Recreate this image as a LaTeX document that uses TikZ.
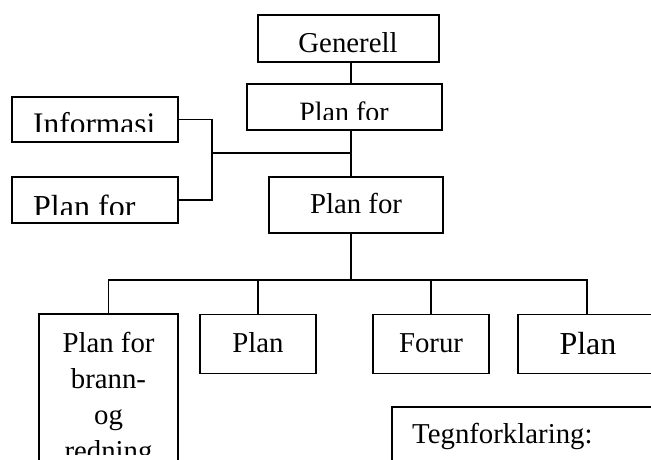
\documentclass[tikz,border=0pt]{standalone}
\usepackage{fontspec}
\setmainfont{Liberation Serif}
\begin{document}
\begin{tikzpicture}[x=1pt,y=-1pt]
\tikzset{
  box/.style={draw, line width=1.8pt, rectangle, inner sep=0pt},
  wire/.style={line width=1.8pt},
  lbl/.style={inner sep=0pt, anchor=base, font=\fontsize{28.8}{35}\selectfont},
  lblbig/.style={inner sep=0pt, anchor=base, font=\fontsize{32}{36}\selectfont},
}
\clip (0,0) rectangle (651,459);
\useasboundingbox (0,0) rectangle (651,459);

% boxes
\node[box, minimum width=181pt, minimum height=47pt] (gen)   at (348.5,38.5) {};
\node[box, minimum width=195pt, minimum height=46pt] (pf1)   at (344.5,107) {};
\node[box, minimum width=166pt, minimum height=45pt] (info)  at (95,119.5) {};
\node[box, minimum width=166pt, minimum height=46pt] (pfl)   at (95,200) {};
\node[box, minimum width=174pt, minimum height=56pt] (pfc)   at (356,205) {};
\node[box, minimum width=139pt, minimum height=186pt] (brann) at (108.5,407) {};
\node[box, minimum width=116pt, minimum height=59pt] (plan2) at (258,344) {};
\node[box, minimum width=116pt, minimum height=59pt] (forur) at (431,344) {};
\node[box, minimum width=138pt, minimum height=59pt] (planr) at (587,344) {};
\node[box, minimum width=328pt, minimum height=113pt] (tegn)  at (556,463.5) {};

% texts
\node[lbl] (tgen) at (348,52) {Generell};
\begin{scope}
  \clip (248,85) rectangle (441,119);
  \node[lbl, font=\fontsize{28}{34}\selectfont] (tpf1) at (344,121) {Plan for};
\end{scope}
\begin{scope}
  \clip (13,98) rectangle (177,131);
  \node[lblbig, anchor=base west, font=\fontsize{31.4}{36}\selectfont] (tinfo) at (33,134) {Informasi};
\end{scope}
\begin{scope}
  \clip (13,178) rectangle (177,214);
  \node[lblbig, anchor=base west] (tpfl) at (33,217) {Plan for};
\end{scope}
\node[lbl] (tpfc) at (356,213) {Plan for};
\begin{scope}
  \clip (40,315) rectangle (177,454);
  \node[lbl] (tb1) at (108.5,352) {Plan for};
  \node[lbl] (tb2) at (108.5,388) {brann-};
  \node[lbl] (tb3) at (108.5,424) {og};
  \node[lbl] (tb4) at (108.5,460) {redning};
\end{scope}
\node[lbl] (tplan2) at (258,352) {Plan};
\node[lbl] (tforur) at (431,352) {Forur};
\node[lblbig] (tplanr) at (588,354) {Plan};
\node[lbl, anchor=base west] (ttegn) at (412,443) {Tegnforklaring:};

% connectors
\coordinate (j) at (351,153);
\coordinate (k) at (212,153);
\coordinate (bus) at (351,280);
\draw[wire] (gen.south -| j) -- (pf1.north -| j);
\draw[wire] (pf1.south -| j) -- (pfc.north -| j);
\draw[wire] (info.east) -| (k) |- (pfl.east);
\draw[wire] (k) -- (j);
\draw[wire] (pfc.south -| bus) -- (bus);
\draw[wire] (brann.north) |- (bus) -| (planr.north);
\draw[wire] (plan2.north) -- (plan2.north |- bus);
\draw[wire] (forur.north) -- (forur.north |- bus);
\end{tikzpicture}
\end{document}
